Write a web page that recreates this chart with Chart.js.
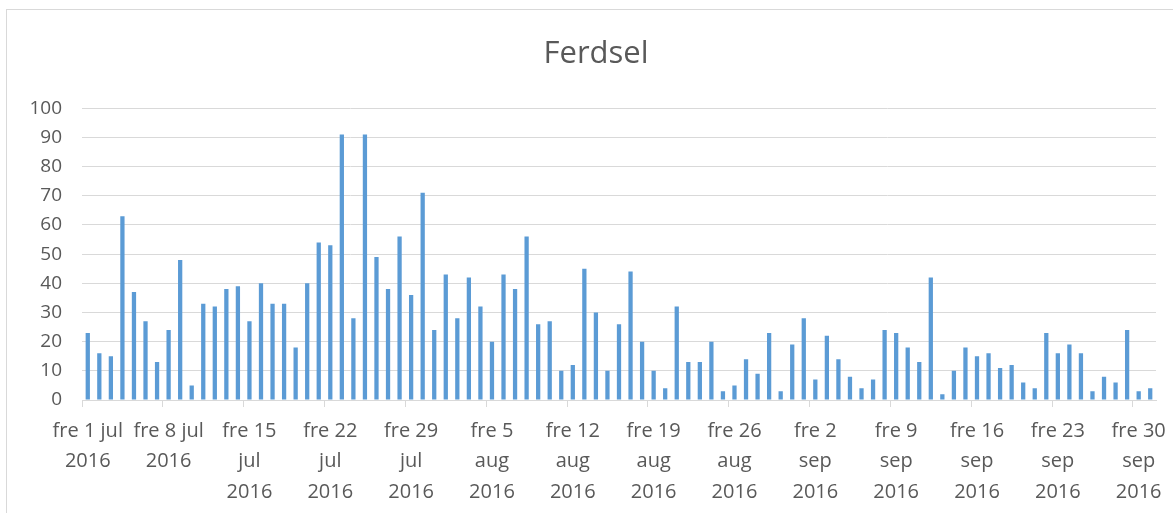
<!DOCTYPE html>
<html>
<head>
<meta charset="utf-8">
<title>Ferdsel</title>
<script src="https://cdn.jsdelivr.net/npm/chart.js@4.4.1/dist/chart.umd.min.js"></script>
<style>
    html, body { margin: 0; padding: 0; background: #fff; overflow: hidden; }
    #wrap { position: relative; width: 1173px; height: 513px; }
    #frame { position: absolute; left: 6px; top: 9px; width: 1200px; height: 600px; border: 1px solid #d9d9d9; }
    #chart { position: absolute; left: 0; top: 0; }
</style>
</head>
<body>
<div id="wrap">
    <div id="frame"></div>
    <canvas id="chart" width="1173" height="513"></canvas>
</div>
<script>
// one bar per day, 1 jul - 1 okt 2016
const days = [
    '01.07', '02.07', '03.07', '04.07', '05.07', '06.07', '07.07', '08.07', '09.07', '10.07',
    '11.07', '12.07', '13.07', '14.07', '15.07', '16.07', '17.07', '18.07', '19.07', '20.07',
    '21.07', '22.07', '23.07', '24.07', '25.07', '26.07', '27.07', '28.07', '29.07', '30.07', '31.07',
    '01.08', '02.08', '03.08', '04.08', '05.08', '06.08', '07.08', '08.08', '09.08', '10.08',
    '11.08', '12.08', '13.08', '14.08', '15.08', '16.08', '17.08', '18.08', '19.08', '20.08',
    '21.08', '22.08', '23.08', '24.08', '25.08', '26.08', '27.08', '28.08', '29.08', '30.08', '31.08',
    '01.09', '02.09', '03.09', '04.09', '05.09', '06.09', '07.09', '08.09', '09.09', '10.09',
    '11.09', '12.09', '13.09', '14.09', '15.09', '16.09', '17.09', '18.09', '19.09', '20.09',
    '21.09', '22.09', '23.09', '24.09', '25.09', '26.09', '27.09', '28.09', '29.09', '30.09',
    '01.10',
];

const ferdselJul = [23, 16, 15, 63, 37, 27, 13, 24, 48, 5, 33, 32, 38, 39, 27, 40, 33, 33, 18, 40,
    54, 53, 91, 28, 91, 49, 38, 56, 36, 71, 24];
const ferdselAug = [43, 28, 42, 32, 20, 43, 38, 56, 26, 27, 10, 12, 45, 30, 10, 26, 44, 20, 10, 4,
    32, 13, 13, 20, 3, 5, 14, 9, 23, 3, 19];
const ferdselSep = [28, 7, 22, 14, 8, 4, 7, 24, 23, 18, 13, 42, 2, 10, 18, 15, 16, 11, 12, 6,
    4, 23, 16, 19, 16, 3, 8, 6, 24, 3];
const ferdselOkt = [4];

// labels shown on every 7th day (fridays)
const weekLabels = [
    ['fre 1 jul', '2016'],
    ['fre 8 jul', '2016'],
    ['fre 15', 'jul', '2016'],
    ['fre 22', 'jul', '2016'],
    ['fre 29', 'jul', '2016'],
    ['fre 5', 'aug', '2016'],
    ['fre 12', 'aug', '2016'],
    ['fre 19', 'aug', '2016'],
    ['fre 26', 'aug', '2016'],
    ['fre 2', 'sep', '2016'],
    ['fre 9', 'sep', '2016'],
    ['fre 16', 'sep', '2016'],
    ['fre 23', 'sep', '2016'],
    ['fre 30', 'sep', '2016'],
];

const yTicks = [0, 10, 20, 30, 40, 50, 60, 70, 80, 90, 100];

const ferdsel = ferdselJul.concat(ferdselAug, ferdselSep, ferdselOkt);

const textColor = '#595959';
const gridColor = '#d9d9d9';
const fontFamily = "'Open Sans', 'Noto Sans', sans-serif";

// the original title sits centred on the whole frame, a bit right of the plot
const titleShift = {
    id: 'titleShift',
    afterLayout(chart) {
        if (!chart.titleBlock) return;
        chart.titleBlock.left += 18;
        chart.titleBlock.right += 18;
    },
};

new Chart(document.getElementById('chart'), {
    type: 'bar',
    data: {
        labels: days,
        datasets: [{
            label: 'Ferdsel',
            data: ferdsel,
            backgroundColor: '#5b9bd5',
            borderWidth: 0,
            barPercentage: 0.37,
            categoryPercentage: 1,
        }],
    },
    plugins: [titleShift],
    options: {
        responsive: false,
        animation: false,
        layout: { padding: { left: 0, right: 17, top: 36, bottom: 0 } },
        plugins: {
            legend: { display: false },
            tooltip: { enabled: false },
            title: {
                display: true,
                text: 'Ferdsel',
                color: textColor,
                font: { family: fontFamily, size: 31, weight: 'normal' },
                padding: { top: 0, bottom: 35 },
            },
        },
        scales: {
            x: {
                offset: true,
                afterFit: (scale) => { scale.height = 113; },
                grid: {
                    offset: true,
                    drawOnChartArea: false,
                    drawTicks: true,
                    tickLength: 7,
                    tickColor: (ctx) => (ctx.index % 7 === 0 ? gridColor : 'rgba(0,0,0,0)'),
                },
                border: { display: true, color: gridColor, width: 1 },
                ticks: {
                    autoSkip: false,
                    maxRotation: 0,
                    minRotation: 0,
                    padding: 9,
                    color: textColor,
                    font: { family: fontFamily, size: 20, lineHeight: 1.52 },
                    callback: (value, index) => (index % 7 === 0 ? weekLabels[index / 7] : ''),
                },
            },
            y: {
                min: 0,
                max: 100,
                afterBuildTicks: (scale) => { scale.ticks = yTicks.map((v) => ({ value: v })); },
                afterFit: (scale) => { scale.width = 82; },
                grid: { color: gridColor, lineWidth: 1, drawTicks: false },
                border: { display: false },
                ticks: {
                    padding: 20,
                    color: textColor,
                    font: { family: fontFamily, size: 19 },
                },
            },
        },
    },
});
</script>
</body>
</html>
